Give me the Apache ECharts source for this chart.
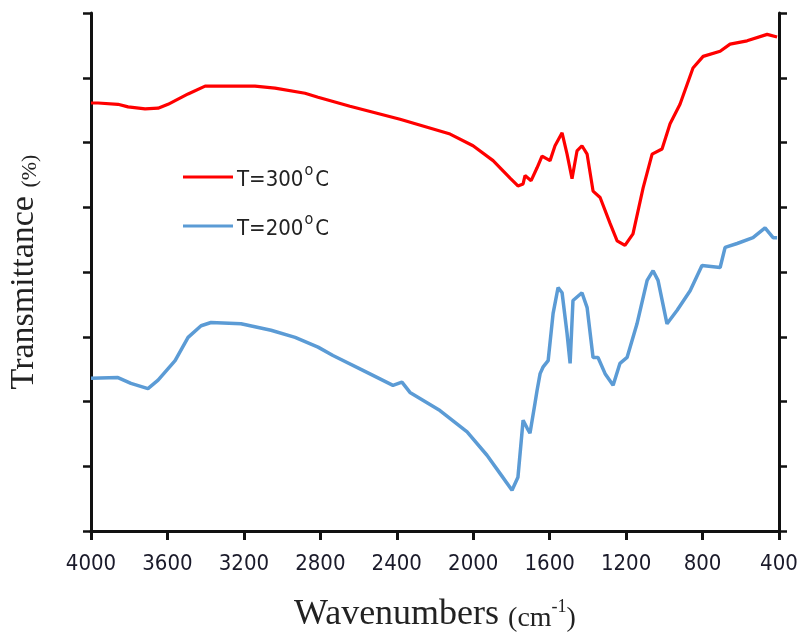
<!DOCTYPE html>
<html>
<head>
<meta charset="utf-8">
<script src="https://cdn.jsdelivr.net/npm/echarts@6/dist/echarts.min.js"></script>
<style>
  html, body { margin: 0; padding: 0; background: #fff; }
  #chart { width: 800px; height: 634px; }
</style>
</head>
<body>
<div id="chart"></div>
<script>
// T=300 C spectrum (wavenumber, transmittance)
var wn300 = [4000, 3963, 3859, 3806, 3717, 3649, 3597, 3492, 3403, 3142, 3037, 2880, 2812, 2645, 2383, 2121, 2001, 1896, 1807, 1766, 1739, 1729, 1697, 1666, 1640, 1598, 1572, 1535, 1509, 1483, 1457, 1431, 1404, 1373, 1336, 1284, 1247, 1206, 1164, 1111, 1064, 1012, 970, 918, 850, 797, 708, 656, 567, 462, 410]
var t300 = [66.1, 66.1, 65.9, 65.5, 65.2, 65.3, 65.9, 67.5, 68.7, 68.7, 68.4, 67.6, 67.0, 65.6, 63.6, 61.3, 59.5, 57.2, 54.5, 53.3, 53.6, 54.9, 54.1, 56.1, 57.9, 57.2, 59.5, 61.5, 58.2, 54.4, 58.7, 59.5, 58.2, 52.5, 51.5, 47.5, 44.8, 44.1, 45.9, 53.0, 58.2, 59.0, 62.9, 65.9, 71.5, 73.3, 74.1, 75.2, 75.7, 76.7, 76.3]

// T=200 C spectrum
var wn200 = [4000, 3859, 3791, 3702, 3649, 3560, 3492, 3424, 3372, 3215, 3058, 2932, 2812, 2734, 2556, 2420, 2373, 2331, 2174, 2032, 1928, 1860, 1797, 1766, 1739, 1718, 1703, 1677, 1666, 1650, 1635, 1608, 1582, 1556, 1535, 1509, 1493, 1478, 1431, 1404, 1373, 1347, 1310, 1268, 1232, 1195, 1143, 1090, 1059, 1033, 986, 933, 865, 803, 708, 682, 619, 536, 473, 431, 410]
var t200 = [23.6, 23.7, 22.8, 22.0, 23.3, 26.3, 29.9, 31.7, 32.2, 32.0, 31.0, 29.9, 28.4, 27.1, 24.5, 22.5, 23.0, 21.4, 18.6, 15.3, 11.7, 8.9, 6.3, 8.3, 17.1, 15.9, 15.1, 19.7, 21.7, 24.3, 25.3, 26.3, 33.6, 37.6, 36.8, 30.5, 25.9, 35.6, 36.8, 34.5, 26.8, 26.8, 24.3, 22.5, 25.9, 26.8, 32.0, 38.7, 40.2, 38.7, 32.0, 34.1, 37.1, 41.0, 40.7, 43.8, 44.4, 45.3, 46.8, 45.3, 45.3]

var xTicks = [4000, 3600, 3200, 2800, 2400, 2000, 1600, 1200, 800, 400]

function pairs(xs, ys) {
  var out = []
  for (var i = 0; i < xs.length; i++) out.push([xs[i], ys[i]])
  return out
}

var myChart = echarts.init(document.getElementById('chart'))
var black = '#111'
var serif = 'Liberation Serif'
var sans = 'DejaVu Sans Condensed, DejaVu Sans'

var option = {
  animation: false,
  backgroundColor: '#fff',
  grid: { left: 91, right: 21, top: 13, bottom: 103, outerBoundsMode: 'none', containLabel: false },
  legend: {
    orient: 'vertical',
    left: 183,
    top: 163,
    padding: 0,
    itemWidth: 50,
    itemHeight: 3,
    itemGap: 21,
    data: [{ name: 'T=300°C', icon: 'rect' }, { name: 'T=200°C', icon: 'rect' }],
    formatter: function (name) {
      var n = name.replace('T=', '').replace('°C', '')
      return '{a|T=' + n + '}{s|o}{a|C}'
    },
    textStyle: {
      padding: [0, 0, 0, -1],
      rich: {
        a: { fontFamily: sans, fontSize: 22, color: '#222', lineHeight: 28, verticalAlign: 'bottom' },
        s: { fontFamily: sans, fontSize: 16, color: '#222', lineHeight: 28, verticalAlign: 'top', padding: [0, 2, 0, 1] }
      }
    }
  },
  xAxis: [{
    type: 'value',
    inverse: true,
    min: 400,
    max: 4000,
    interval: 400,
    position: 'bottom',
    name: '{w|Wavenumbers }{c|(cm}{e|-1}{c|)}',
    nameLocation: 'middle',
    nameGap: 62,
    nameTextStyle: {
      rich: {
        w: { fontFamily: serif, fontSize: 36, color: '#222', lineHeight: 40, verticalAlign: 'bottom' },
        c: { fontFamily: serif, fontSize: 28, color: '#222', lineHeight: 40, verticalAlign: 'bottom' },
        e: { fontFamily: serif, fontSize: 18, color: '#222', lineHeight: 40, verticalAlign: 'top', padding: [5, 0, 0, 0] }
      }
    },
    axisLine: { lineStyle: { color: black, width: 3 } },
    axisTick: { length: 9, lineStyle: { color: black, width: 3 } },
    axisLabel: {
      margin: 22,
      fontFamily: sans,
      fontSize: 22,
      color: '#1a1a2a',
      formatter: function (v) { return xTicks.indexOf(v) >= 0 ? String(v) : '' }
    },
    splitLine: { show: false }
  }, {
    type: 'value',
    inverse: true,
    min: 400,
    max: 4000,
    position: 'top',
    axisLine: { lineStyle: { color: black, width: 3 } },
    axisTick: { show: false },
    axisLabel: { show: false },
    splitLine: { show: false }
  }],
  yAxis: [{
    type: 'value',
    min: 0,
    max: 80,
    interval: 10,
    position: 'left',
    name: '{t|Transmittance }{p|(%)}',
    nameLocation: 'middle',
    nameGap: 50,
    nameTextStyle: {
      rich: {
        t: { fontFamily: serif, fontSize: 34, color: '#222', lineHeight: 36, verticalAlign: 'bottom' },
        p: { fontFamily: serif, fontSize: 22, color: '#222', lineHeight: 36, verticalAlign: 'bottom' }
      }
    },
    axisLine: { lineStyle: { color: black, width: 3 } },
    axisTick: { length: 8, lineStyle: { color: black, width: 2.5 } },
    axisLabel: { show: false },
    splitLine: { show: false }
  }, {
    type: 'value',
    min: 0,
    max: 80,
    interval: 10,
    position: 'right',
    axisLine: { show: true, lineStyle: { color: black, width: 3 } },
    axisTick: { length: 8, lineStyle: { color: black, width: 2.5 } },
    axisLabel: { show: false },
    splitLine: { show: false }
  }],
  series: [{
    name: 'T=300°C',
    type: 'line',
    symbol: 'none',
    data: pairs(wn300, t300),
    lineStyle: { color: '#ff0000', width: 3.2 },
    itemStyle: { color: '#ff0000' }
  }, {
    name: 'T=200°C',
    type: 'line',
    symbol: 'none',
    data: pairs(wn200, t200),
    lineStyle: { color: '#5b9bd5', width: 3.5 },
    itemStyle: { color: '#5b9bd5' }
  }]
}
myChart.setOption(option)
</script>
</body>
</html>
